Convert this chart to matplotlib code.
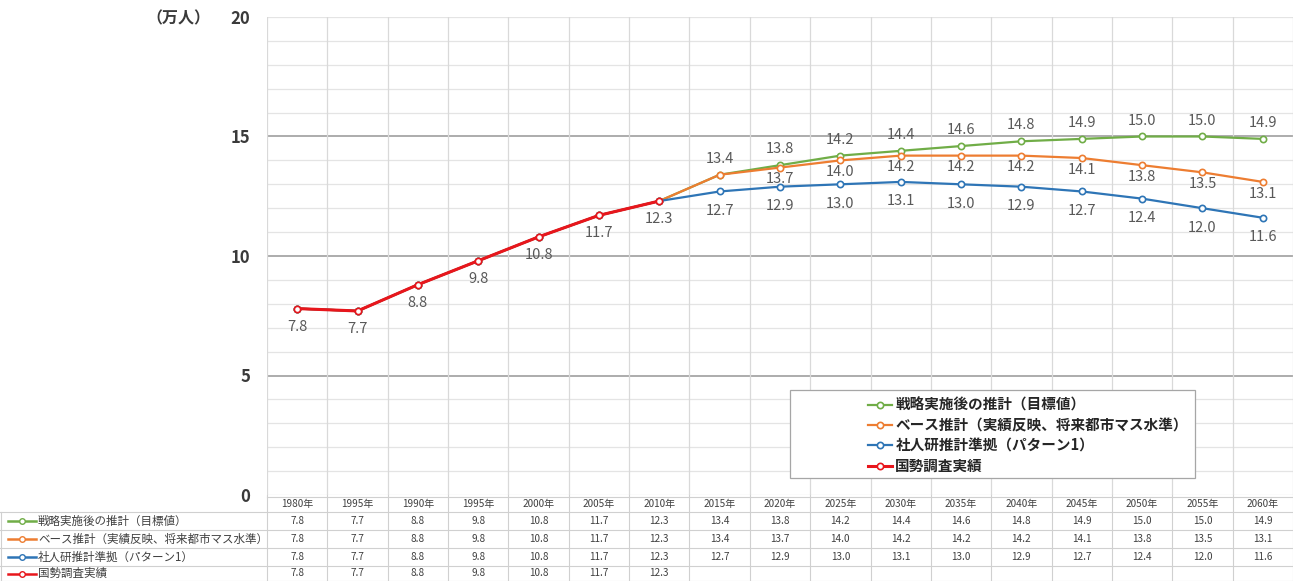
import matplotlib
matplotlib.use("Agg")
import matplotlib.pyplot as plt
from matplotlib.patches import Rectangle

plt.rcParams['font.family'] = ['Noto Sans CJK JP', 'DejaVu Sans']

# ---- data ----
years = ["1980年", "1995年", "1990年", "1995年", "2000年", "2005年", "2010年", "2015年",
         "2020年", "2025年", "2030年", "2035年", "2040年", "2045年", "2050年", "2055年", "2060年"]

series_names = ["戦略実施後の推計（目標値）",
                "ベース推計（実績反映、将来都市マス水準）",
                "社人研推計準拠（パターン1）",
                "国勢調査実績"]

strategy = [7.8, 7.7, 8.8, 9.8, 10.8, 11.7, 12.3, 13.4, 13.8, 14.2, 14.4, 14.6, 14.8, 14.9, 15.0, 15.0, 14.9]
base = [7.8, 7.7, 8.8, 9.8, 10.8, 11.7, 12.3, 13.4, 13.7, 14.0, 14.2, 14.2, 14.2, 14.1, 13.8, 13.5, 13.1]
ipss = [7.8, 7.7, 8.8, 9.8, 10.8, 11.7, 12.3, 12.7, 12.9, 13.0, 13.1, 13.0, 12.9, 12.7, 12.4, 12.0, 11.6]
census = [7.8, 7.7, 8.8, 9.8, 10.8, 11.7, 12.3]

colors = ["#70AD47", "#ED7D31", "#2E75B6", "#E8161C"]
all_series = [strategy, base, ipss, census]

# ---- figure layout (pixels) ----
W, H = 1293, 581
fig = plt.figure(figsize=(W / 100, H / 100), dpi=100)
px_left, px_right, px_top, px_bottom = 267, 1293, 17, 495
ax = fig.add_axes([px_left / W, 1 - px_bottom / H,
                   (px_right - px_left) / W, (px_bottom - px_top) / H])

n = len(years)
x = list(range(n))
ax.set_xlim(-0.5, n - 0.5)
ax.set_ylim(0, 20)

# grid
for v in range(0, 21):
    if v in (5, 10, 15):
        ax.axhline(v, color="#A6A6A6", lw=1.3, zorder=1)
    else:
        ax.axhline(v, color="#E4E4E4", lw=0.9, zorder=1)
for b in range(n + 1):
    ax.axvline(b - 0.5, color="#D9D9D9", lw=0.9, zorder=1)

for s in ax.spines.values():
    s.set_visible(False)
ax.set_xticks([])
ax.set_yticks([0, 5, 10, 15, 20])
ax.set_yticklabels(["0", "5", "10", "15", "20"])
ax.tick_params(axis="y", length=0, pad=12, labelsize=12, labelcolor="#3A3A3A")
for t in ax.get_yticklabels():
    t.set_fontweight("bold")
fig.text(146 / W, 1 - 18 / H, "（万人）", fontsize=11.5, color="#3A3A3A",
         fontweight="bold", ha="left", va="center")

# series lines (census drawn last so it sits on top)
handles = []
for i, (vals, c) in enumerate(zip(all_series, colors)):
    lw = 2.2 if i == 3 else 1.6
    h, = ax.plot(x[:len(vals)], vals, color=c, lw=lw, marker="o", ms=4.5,
                 mfc="white", mec=c, mew=1.2, zorder=3 + i)
    handles.append(h)

# data labels
lab_kw = dict(textcoords="offset points", ha="center", va="center",
              fontsize=10.5, color="#595959", zorder=10)
for i in range(7, n):
    ax.annotate(f"{strategy[i]:.1f}", (i, strategy[i]), xytext=(0, 11.5), **lab_kw)
for i in range(8, n):
    ax.annotate(f"{base[i]:.1f}", (i, base[i]), xytext=(0, -8.5), **lab_kw)
for i in range(7, n):
    ax.annotate(f"{ipss[i]:.1f}", (i, ipss[i]), xytext=(0, -14), **lab_kw)
for i in range(len(census)):
    ax.annotate(f"{census[i]:.1f}", (i, census[i]), xytext=(0, -13), **lab_kw)

# legend box
fig.patches.append(Rectangle((790 / W, 1 - 478 / H), 405 / W, 88 / H,
                             transform=fig.transFigure, facecolor="white",
                             edgecolor="#A6A6A6", lw=0.9, zorder=20))
leg = fig.legend(handles, series_names, loc="upper left",
                 bbox_to_anchor=(856 / W, 1 - 385 / H), frameon=False,
                 fontsize=10.5, handlelength=1.7, handletextpad=0.2,
                 labelspacing=0.3, borderpad=0.3)
leg.set_zorder(21)
for t in leg.get_texts():
    t.set_color("#262626")
    t.set_fontweight("bold")

# ---- data table ----
tx = fig.add_axes([0, 0, 1, (H - px_bottom) / H])
tx.set_xlim(0, W)
tx.set_ylim(H, px_bottom)
tx.axis("off")

colw = (px_right - px_left) / n
row_top = [497, 512, 530, 548, 566]
grid_c = "#D0D0D0"

# horizontal lines
tx.plot([px_left, W], [row_top[0], row_top[0]], color=grid_c, lw=0.8)
for yy in row_top[1:]:
    tx.plot([0, W], [yy, yy], color=grid_c, lw=0.8)
tx.plot([0, W], [H - 0.5, H - 0.5], color=grid_c, lw=0.8)
# vertical lines
tx.plot([0.5, 0.5], [row_top[1], H], color=grid_c, lw=0.8)
for b in range(n + 1):
    xb = px_left + b * colw
    tx.plot([xb, xb], [px_bottom, H], color=grid_c, lw=0.8)

tbl_kw = dict(ha="center", va="center", fontsize=7.2, color="#404040")
for i, yl in enumerate(years):
    tx.text(px_left + (i + 0.5) * colw, (row_top[0] + row_top[1]) / 2, yl, **tbl_kw)

for r, (vals, c, name) in enumerate(zip(all_series, colors, series_names)):
    y0 = row_top[r + 1]
    y1 = row_top[r + 2] if r + 2 < len(row_top) else H
    yc = (y0 + y1) / 2
    tx.plot([8, 36], [yc, yc], color=c, lw=1.8)
    tx.plot([22], [yc], marker="o", ms=4, mfc="white", mec=c, mew=1)
    tx.text(38, yc, name, ha="left", va="center", fontsize=8.3, color="#404040")
    for i, v in enumerate(vals):
        tx.text(px_left + (i + 0.5) * colw, yc, f"{v:.1f}", **tbl_kw)

fig.savefig("out.png", dpi=100, facecolor="white")
